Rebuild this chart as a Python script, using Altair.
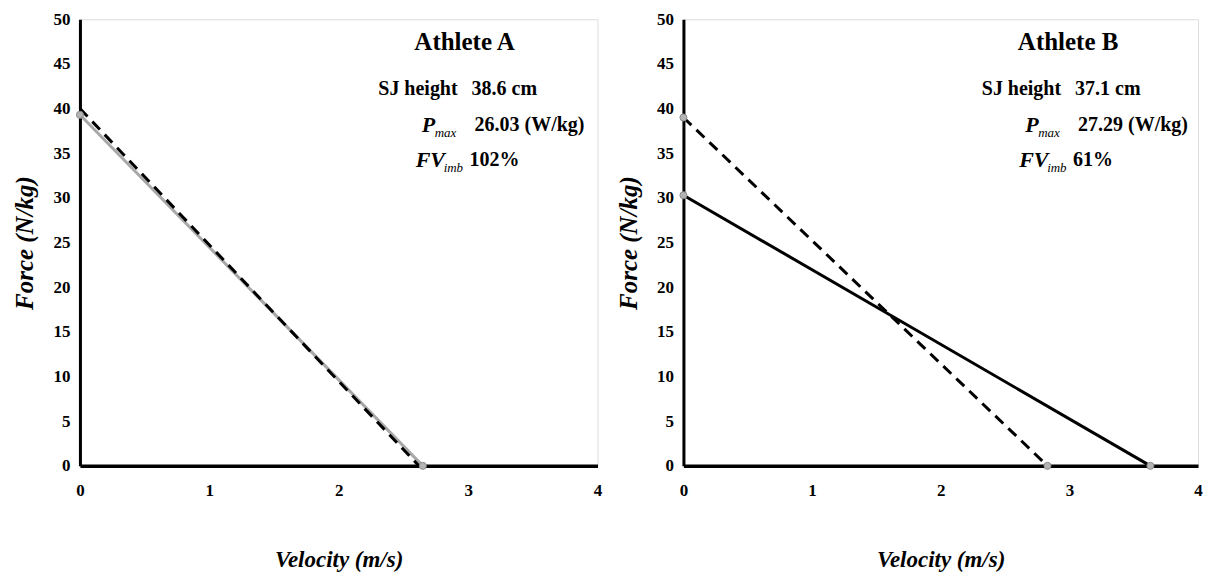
import altair as alt
import pandas as pd

# ---------------- data ----------------
athletes = ["Athlete A", "Athlete B"]
optimal_F0 = [40.0, 39.0]      # N/kg, dashed (optimal profile)
optimal_V0 = [2.62, 2.83]      # m/s
actual_F0 = [39.3, 30.3]       # N/kg, solid (actual profile)
actual_V0 = [2.65, 3.63]       # m/s
sj_height = ["38.6 cm", "37.1 cm"]
pmax_text = ["26.03 (W/kg)", "27.29 (W/kg)"]
fvimb_text = ["102%", "61%"]
show_optimal_markers = [False, True]

x_ticks = [0, 1, 2, 3, 4]
y_ticks = [0, 5, 10, 15, 20, 25, 30, 35, 40, 45, 50]

FONT = "Liberation Serif"
W, H = 518, 447


def panel(i):
    rows = []
    for s, F0, V0 in [("optimal", optimal_F0[i], optimal_V0[i]),
                      ("actual", actual_F0[i], actual_V0[i])]:
        rows.append({"series": s, "v": 0.0, "F": F0, "order": 0})
        rows.append({"series": s, "v": V0, "F": 0.0, "order": 1})
    df = pd.DataFrame(rows)
    pts = df[df.series == "actual"] if not show_optimal_markers[i] else df

    xs = alt.X("v:Q", scale=alt.Scale(domain=[0, 4], nice=False),
               axis=alt.Axis(values=x_ticks, format="d", title="Velocity (m/s)", grid=False,
                             ticks=False, domainColor="black", domainWidth=3.5,
                             labelFont=FONT, labelFontSize=17, labelFontWeight="bold",
                             labelPadding=17, labelColor="black", labelFlush=False,
                             titleFont=FONT, titleFontSize=23, titleFontWeight="bold",
                             titleFontStyle="italic", titlePadding=50, titleColor="black"))
    ys = alt.Y("F:Q", scale=alt.Scale(domain=[0, 50], nice=False),
               axis=alt.Axis(values=y_ticks, format="d", title="Force (N/kg)", grid=False,
                             ticks=False, domainColor="black", domainWidth=3,
                             labelFont=FONT, labelFontSize=17, labelFontWeight="bold",
                             labelPadding=10, labelColor="black",
                             titleFont=FONT, titleFontSize=25, titleFontWeight="bold",
                             titleFontStyle="italic", titlePadding=15, titleColor="black"))

    actual_color = "#a8a8a8" if i == 0 else "black"
    base = alt.Chart(df)
    solid = base.transform_filter(alt.datum.series == "actual").mark_line(
        color=actual_color, strokeWidth=3).encode(x=xs, y=ys, order="order:Q")
    dashed = base.transform_filter(alt.datum.series == "optimal").mark_line(
        color="black", strokeWidth=3, strokeDash=[11, 7]).encode(x=xs, y=ys, order="order:Q")
    markers = alt.Chart(pts).mark_point(filled=True, size=50, color="#b4b4b4",
                                        stroke="#8a8a8a", strokeWidth=1, opacity=1).encode(x=xs, y=ys)

    def txt(text, x, y, size, align="left", style="normal", weight="bold"):
        return alt.Chart(pd.DataFrame({"t": [text]})).mark_text(
            font=FONT, fontSize=size, fontWeight=weight, fontStyle=style,
            align=align, baseline="middle", color="black").encode(
            text="t:N", x=alt.value(x), y=alt.value(y))

    texts = [
        txt(athletes[i], 385, 23, 25, align="center"),
        txt("SJ height", 378, 70, 20, align="right"),
        txt(sj_height[i], 392, 70, 20),
        txt("P", 342, 106, 22, style="italic"),
        txt("max", 355, 114, 13, style="italic", weight="normal"),
        txt(pmax_text[i], 395, 106, 20),
        txt("FV", 336, 141, 22, style="italic"),
        txt("imb", 364, 149, 13, style="italic", weight="normal"),
        txt(fvimb_text[i], 390, 141, 20),
    ]
    if i == 0:
        layers = [solid, dashed, markers] + texts
    else:
        layers = [dashed, solid, markers] + texts
    return alt.layer(*layers).properties(width=W if i == 0 else 515, height=H)


chart = alt.hconcat(panel(0), panel(1), spacing=13).configure_view(
    stroke=None).properties(padding={"left": 4, "top": 1, "right": 0, "bottom": 0}
).configure(background="white", font=FONT)

chart.save("out.html", embed_options={"renderer": "svg", "actions": False})
